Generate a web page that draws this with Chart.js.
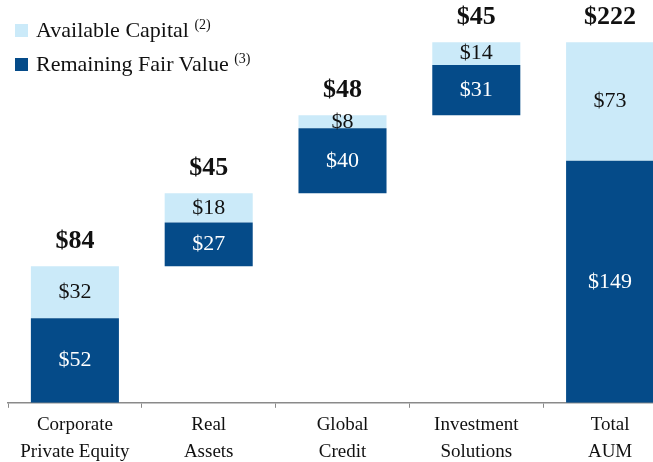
<!DOCTYPE html>
<html>
<head>
<meta charset="utf-8">
<script src="https://cdn.jsdelivr.net/npm/chart.js@4"></script>
<style>
  html, body { margin: 0; padding: 0; background: #fff; overflow: hidden; width: 653px; height: 462px; }
  #wrap { position: relative; width: 653px; height: 462px; overflow: hidden; }
  canvas { position: absolute; left: 0; top: 0; }
  #legend { position: absolute; left: 15px; top: 13px; font-family: "Liberation Serif", serif; font-size: 22px; color: #111; line-height: 34px; }
  #legend .sw { display: inline-block; width: 13px; height: 13px; margin-right: 8px; vertical-align: 0px; }
  #legend sup { font-size: 14px; vertical-align: 8px; line-height: 0; }
</style>
</head>
<body>
<div id="wrap">
  <canvas id="waterfall" width="685" height="469"></canvas>
  <div id="legend">
    <div><span class="sw" style="background:#cbeaf9"></span>Available Capital <sup>(2)</sup></div>
    <div><span class="sw" style="background:#054b89"></span>Remaining Fair Value <sup>(3)</sup></div>
  </div>
</div>
<script>
// kategori dan nilai (dalam miliar $)
const categories = [['Corporate', 'Private Equity'], ['Real', 'Assets'], ['Global', 'Credit'], ['Investment', 'Solutions'], ['Total', 'AUM']];
const baseOffset = [0, 84, 129, 177, 0];          // dasar tak terlihat untuk efek waterfall
const remainingFairValue = [52, 27, 40, 31, 149];
const availableCapital = [32, 18, 8, 14, 73];
const totalLabels = ['$84', '$45', '$48', '$45', '$222'];

const darkBlue = '#054b89';
const lightBlue = '#cbeaf9';

// plugin sederhana untuk menulis angka di dalam dan di atas batang
const barLabels = {
    id: 'barLabels',
    afterDatasetsDraw(chart) {
        const c = chart.ctx;
        c.save();
        c.textAlign = 'center';
        c.textBaseline = 'middle';
        const fair = chart.getDatasetMeta(1).data;
        const avail = chart.getDatasetMeta(2).data;
        c.font = '22px "Liberation Serif", serif';
        fair.forEach((el, i) => {
            c.fillStyle = '#ffffff';
            c.fillText('$' + remainingFairValue[i], el.x, (el.y + el.base) / 2);
        });
        avail.forEach((el, i) => {
            c.fillStyle = '#111111';
            c.fillText('$' + availableCapital[i], el.x, (el.y + el.base) / 2);
        });
        c.font = 'bold 26px "Liberation Serif", serif';
        avail.forEach((el, i) => {
            c.fillStyle = '#111111';
            c.fillText(totalLabels[i], el.x, el.y - 25);
        });
        c.restore();
    }
};

new Chart(document.getElementById('waterfall').getContext('2d'), {
    type: 'bar',
    data: {
        labels: categories,
        datasets: [
            { label: 'base', data: baseOffset, backgroundColor: 'rgba(0,0,0,0)' },
            { label: 'Remaining Fair Value', data: remainingFairValue, backgroundColor: darkBlue },
            { label: 'Available Capital', data: availableCapital, backgroundColor: lightBlue }
        ]
    },
    options: {
        responsive: false,
        animation: false,
        layout: { padding: { left: 8, right: 8, top: 0, bottom: 0 } },
        datasets: { bar: { categoryPercentage: 1, barPercentage: 0.658 } },
        plugins: { legend: { display: false }, tooltip: { enabled: false } },
        scales: {
            x: {
                stacked: true,
                grid: { drawOnChartArea: false, offset: true, tickLength: 5, color: '#8a8a8a' },
                border: { color: '#8a8a8a', width: 1.5 },
                ticks: {
                    color: '#111',
                    padding: 4,
                    maxRotation: 0,
                    font: { family: '"Liberation Serif", serif', size: 19, lineHeight: 1.4 }
                }
            },
            y: { stacked: true, display: false, min: 0, max: 248 }
        }
    },
    plugins: [barLabels]
});
</script>
</body>
</html>
